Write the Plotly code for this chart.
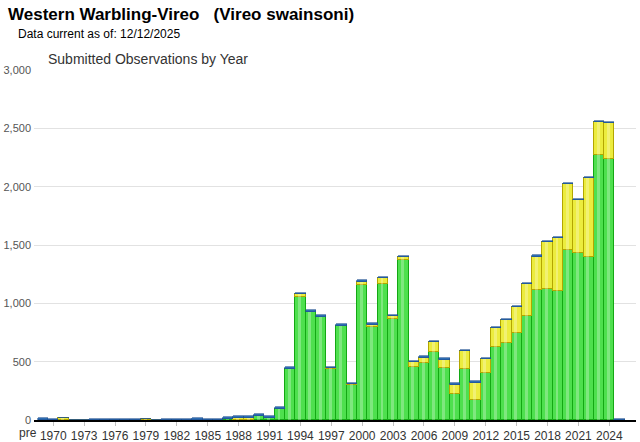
import plotly.graph_objects as go

# ---- data ----
years = list(range(1969, 2026))  # 1969 position holds the "pre" category
green = [0, 0, 0, 0, 0, 0, 0, 0, 0, 0, 0, 0, 0, 0, 0, 0, 0, 0, 5, 0, 0,
         36, 20, 97, 437, 1051, 929, 883, 437, 803, 300,
         1160, 797, 1168, 863, 1375, 451, 492, 586, 450, 223,
         440, 171, 405, 626, 660, 748, 890, 1111, 1120, 1103,
         1454, 1429, 1397, 2271, 2234, 0]
yellow = [0, 0, 15, 0, 0, 0, 0, 0, 0, 0, 5, 0, 0, 0, 0, 0, 0, 0, 5, 15, 15,
          0, 0, 0, 0, 26, 0, 0, 8, 0, 5,
          25, 20, 45, 25, 19, 43, 42, 79, 68, 80,
          148, 150, 114, 159, 194, 217, 272, 288, 402, 454,
          565, 453, 674, 280, 308, 0]
blue = [18, 5, 5, 0, 0, 6, 6, 6, 6, 6, 4, 0, 6, 12, 6, 15, 6, 10, 12, 18, 18,
        12, 14, 14, 17, 12, 14, 17, 12, 20, 12,
        12, 12, 12, 12, 12, 12, 12, 12, 12, 10,
        12, 13, 12, 12, 12, 12, 12, 12, 12, 12,
        12, 12, 12, 12, 12, 6]
tick_years = list(range(1970, 2025, 3))
tick_text = [str(y) for y in tick_years]

title_text = "Western Warbling-Vireo\u00a0\u00a0\u00a0(Vireo swainsoni)"
sub_text = "Data current as of: 12/12/2025"
chart_title = "Submitted Observations by Year"

W, H = 640, 442
L, R, T, B = 34, 4, 70, 22
pw, ph = W - L - R, H - T - B
XR = [1968.13, 2026.59]

def px(x):
    return (x - L) / pw

def py(y):
    return (H - B - y) / ph

fig = go.Figure()
fig.add_bar(x=years, y=green, name="green", marker=dict(color="#4ee04e", line=dict(color="#14a814", width=1)))
fig.add_bar(x=years, y=yellow, name="yellow", marker=dict(color="#ecec3e", line=dict(color="#b3a600", width=1)))
fig.add_bar(x=years, y=blue, name="blue", marker=dict(color="#2d6db3", line=dict(color="#1c4f8f", width=0.6)))

# light vertical sheen inside each bar (drawn on an overlaid copy of the axes)
for vals in (green, yellow):
    fig.add_bar(x=years, y=vals, xaxis="x2", yaxis="y2", width=0.28, offset=-0.22,
                marker=dict(color="rgba(255,255,255,0.28)", line=dict(width=0)),
                hoverinfo="skip")

font = "Liberation Sans, Arial, sans-serif"
fig.update_layout(
    width=W, height=H,
    margin=dict(l=L, r=R, t=T, b=B, pad=0),
    barmode="stack", bargap=0.0,
    showlegend=False,
    plot_bgcolor="white", paper_bgcolor="white",
    font=dict(family=font, size=12, color="#333333"),
    xaxis=dict(range=XR, tickmode="array", tickvals=tick_years, ticktext=tick_text,
               ticks="outside", ticklen=4, tickcolor="#c0c0c0", showgrid=False,
               showline=True, linecolor="black", linewidth=1.5,
               tickfont=dict(size=12, color="#333333"), zeroline=False, automargin=False),
    yaxis=dict(range=[0, 3000], tickmode="array", tickvals=[0, 500, 1000, 1500, 2000, 2500, 3000],
               tickformat=",", showgrid=True, gridcolor="#e2e2e2", gridwidth=1, zeroline=False,
               tickfont=dict(size=11, color="#555555"), ticklabelstandoff=2, automargin=False),
    xaxis2=dict(range=XR, overlaying="x", visible=False, matches=None),
    yaxis2=dict(range=[0, 3000], overlaying="y", visible=False),
)

fig.add_annotation(text="<b>" + title_text + "</b>", xref="paper", yref="paper", x=px(6), y=py(3),
                   xanchor="left", yanchor="top", showarrow=False,
                   font=dict(family=font, size=17, color="black"))
fig.add_annotation(text=sub_text, xref="paper", yref="paper", x=px(16), y=py(25),
                   xanchor="left", yanchor="top", showarrow=False,
                   font=dict(family=font, size=12, color="black"))
fig.add_annotation(text=chart_title, xref="paper", yref="paper", x=px(46), y=py(49),
                   xanchor="left", yanchor="top", showarrow=False,
                   font=dict(family=font, size=14, color="#333333"))
fig.add_annotation(text="pre", xref="x", yref="paper", x=years[0], xshift=-15, y=py(424),
                   xanchor="center", yanchor="top", showarrow=False,
                   font=dict(family=font, size=12, color="#333333"))

fig.write_html("out.html", config={"displayModeBar": False},
               post_script="document.body.style.margin='0';document.body.style.overflow='hidden';")
